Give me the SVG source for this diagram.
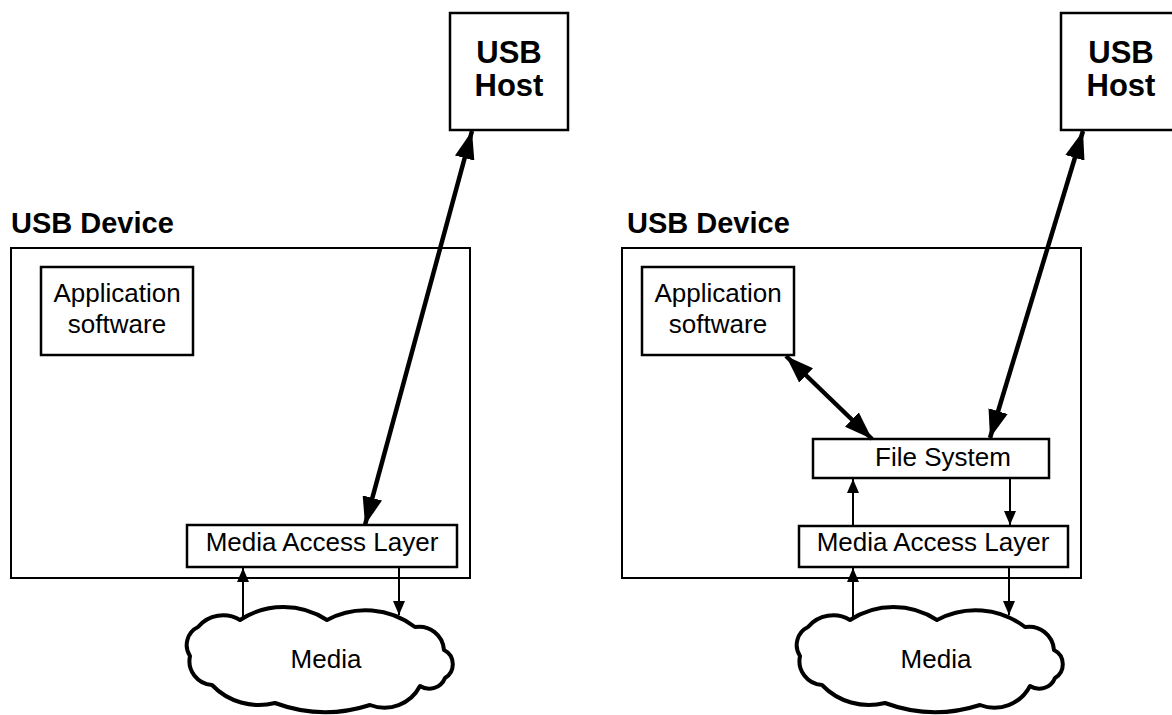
<svg xmlns="http://www.w3.org/2000/svg" width="1172" height="715" viewBox="0 0 1172 715">
  <style>
    .box { fill: #fff; stroke: #000; stroke-width: 2.5; }
    .frame { fill: none; stroke: #000; stroke-width: 2; }
    .cloud { fill: #fff; stroke: #000; stroke-width: 4; stroke-linejoin: round; }
    .lbl { font-family: "Liberation Sans", Arial, sans-serif; font-size: 26px; fill: #000; text-anchor: middle; }
    .title { font-family: "Liberation Sans", Arial, sans-serif; font-size: 29px; font-weight: bold; fill: #000; }
    .host { font-family: "Liberation Sans", Arial, sans-serif; font-size: 31px; font-weight: bold; fill: #000; text-anchor: middle; }
    .thin { stroke: #000; stroke-width: 2; fill: none; }
    .thick { stroke: #000; stroke-width: 4.5; fill: none; }
  </style>
  <defs>
    <marker id="arrSmall" markerUnits="userSpaceOnUse" viewBox="0 0 14 12" refX="14" refY="6" markerWidth="14" markerHeight="12" orient="auto-start-reverse">
      <path d="M0,0 L14,6 L0,12 Z" fill="#000"/>
    </marker>
    <marker id="arrBig" markerUnits="userSpaceOnUse" viewBox="0 0 28 20" refX="28" refY="10" markerWidth="28" markerHeight="20" orient="auto-start-reverse">
      <path d="M0,0 L28,10 L0,20 Z" fill="#000"/>
    </marker>
    <!-- scalloped cloud outline, drawn clockwise from the upper-left lobe -->
    <path id="cloudShape" d="M240,620 A79,79 0 0 1 327,620 A81,81 0 0 1 415,627 A25,25 0 0 1 444,650 A16,16 0 0 1 445,678 A17,17 0 0 1 420,686 A40,40 0 0 1 370,705 A145,145 0 0 1 275,703 A65,65 0 0 1 212,685 A24,24 0 0 1 190,656 A20,20 0 0 1 198,627 A33,33 0 0 1 240,620 Z"/>
  </defs>

  <rect width="1172" height="715" fill="#fff"/>

  <!-- Left: device without file system -->
  <g id="left-host">
    <rect class="box" x="450" y="13" width="118" height="117"/>
    <text class="host" x="509" y="63">USB</text>
    <text class="host" x="509" y="96">Host</text>
  </g>
  <g id="left-device">
    <text class="title" x="11" y="233">USB Device</text>
    <rect class="frame" x="11" y="248" width="459" height="330"/>
  </g>
  <g id="left-app">
    <rect class="box" x="41" y="267" width="152" height="88"/>
    <text class="lbl" x="117" y="302">Application</text>
    <text class="lbl" x="117" y="333">software</text>
  </g>
  <g id="left-mal">
    <rect class="box" x="187" y="525" width="270" height="42"/>
    <text class="lbl" x="322" y="551">Media Access Layer</text>
  </g>
  <g id="left-media">
    <use href="#cloudShape" class="cloud"/>
    <text class="lbl" x="326" y="668">Media</text>
  </g>

  <!-- Right: device with file system -->
  <g id="right-host">
    <rect class="box" x="1061" y="13" width="118" height="117"/>
    <text class="host" x="1121" y="63">USB</text>
    <text class="host" x="1121" y="96">Host</text>
  </g>
  <g id="right-device">
    <text class="title" x="627" y="233">USB Device</text>
    <rect class="frame" x="622" y="248" width="459" height="330"/>
  </g>
  <g id="right-app">
    <rect class="box" x="642" y="267" width="152" height="88"/>
    <text class="lbl" x="718" y="302">Application</text>
    <text class="lbl" x="718" y="333">software</text>
  </g>
  <g id="right-fs">
    <rect class="box" x="813" y="439" width="236" height="39"/>
    <text class="lbl" x="943" y="466">File System</text>
  </g>
  <g id="right-mal">
    <rect class="box" x="799" y="526" width="269" height="41"/>
    <text class="lbl" x="933" y="551">Media Access Layer</text>
  </g>
  <g id="right-media">
    <use href="#cloudShape" class="cloud" transform="translate(610,0)"/>
    <text class="lbl" x="936" y="668">Media</text>
  </g>

  <!-- Connectors -->
  <g id="connectors">
    <line class="thick" x1="365" y1="525" x2="472" y2="131" marker-start="url(#arrBig)" marker-end="url(#arrBig)"/>
    <line class="thin" x1="243" y1="619" x2="243" y2="568" marker-end="url(#arrSmall)"/>
    <line class="thin" x1="399" y1="567" x2="399" y2="615" marker-end="url(#arrSmall)"/>

    <line class="thick" x1="990" y1="438" x2="1083" y2="131" marker-start="url(#arrBig)" marker-end="url(#arrBig)"/>
    <line class="thick" x1="786" y1="356" x2="872" y2="439" marker-start="url(#arrBig)" marker-end="url(#arrBig)"/>
    <line class="thin" x1="853" y1="526" x2="853" y2="479" marker-end="url(#arrSmall)"/>
    <line class="thin" x1="1010" y1="478" x2="1010" y2="525" marker-end="url(#arrSmall)"/>
    <line class="thin" x1="853" y1="619" x2="853" y2="568" marker-end="url(#arrSmall)"/>
    <line class="thin" x1="1009" y1="567" x2="1009" y2="615" marker-end="url(#arrSmall)"/>
  </g>
</svg>
